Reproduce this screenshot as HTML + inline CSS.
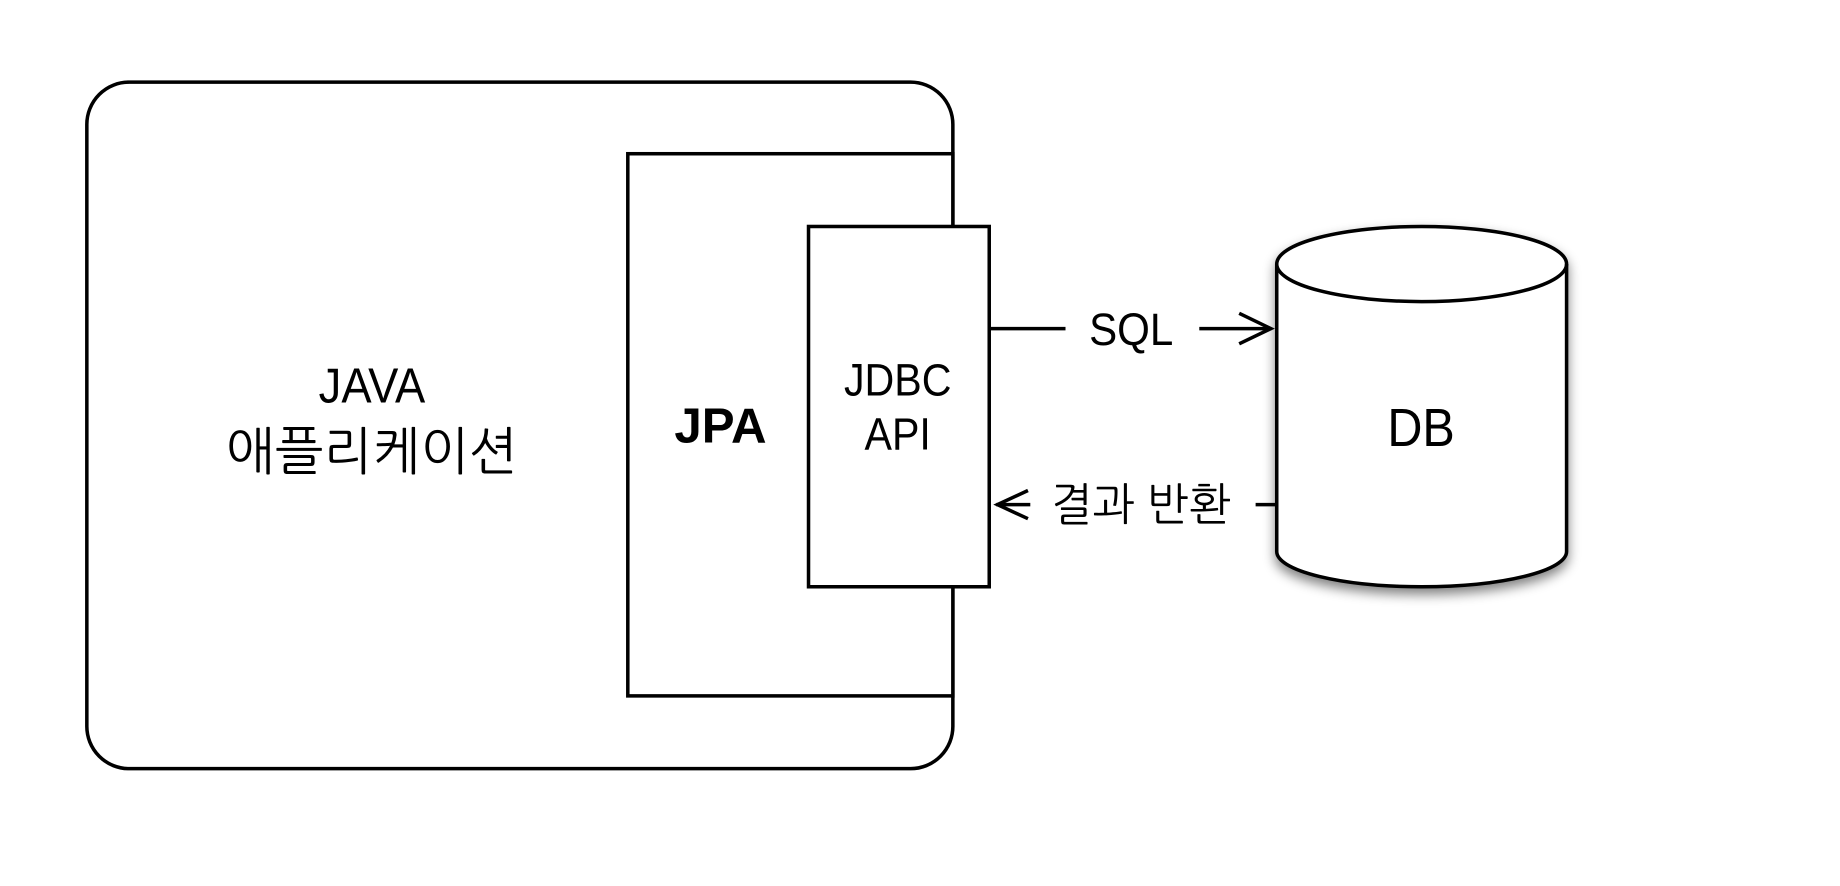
<!DOCTYPE html>
<html><head><meta charset="utf-8"><style>
html,body{margin:0;padding:0;background:#fff;overflow:hidden}
svg{display:block}
text{font-family:"Liberation Sans","NanumGothic","Noto Sans CJK KR",sans-serif;fill:#000}
</style></head><body>
<svg width="1840" height="886" viewBox="0 0 1568 755" preserveAspectRatio="none">
<defs><filter id="sh" x="-20%" y="-20%" width="140%" height="150%"><feGaussianBlur in="SourceAlpha" stdDeviation="5"/><feOffset dy="5"/><feComponentTransfer><feFuncA type="linear" slope="0.5"/></feComponentTransfer><feMerge><feMergeNode/><feMergeNode in="SourceGraphic"/></feMerge></filter></defs>
<g stroke="#000" stroke-width="3" fill="#fff">
<rect x="74" y="70" width="738" height="585" rx="36"/>
<rect x="535" y="131" width="277" height="462"/>
<rect x="689" y="193" width="154" height="307"/>
<path filter="url(#sh)" d="M1088,225 L1088,470 A123.5,30 0 0 0 1335,470 L1335,225 A123.5,32 0 0 0 1088,225 Z"/>
<path fill="none" d="M1088,225 A123.5,32 0 0 0 1335,225"/>
<line x1="843" y1="280" x2="908" y2="280"/>
<line x1="1022" y1="280" x2="1083" y2="280"/>
<polyline fill="none" points="1056,267 1083,280 1056,293"/>
<line x1="849" y1="430" x2="878" y2="430"/>
<polyline fill="none" points="876,418 850,430 876,442"/>
<line x1="1070" y1="430" x2="1088" y2="430"/>
</g>
<text x="317" y="343" font-size="42" text-anchor="middle" transform="translate(317 0) scale(0.92 1) translate(-317 0)">JAVA</text>
<text x="317" y="400" font-size="44" text-anchor="middle">애플리케이션</text>
<text x="614" y="377" font-size="42" font-weight="bold" text-anchor="middle">JPA</text>
<text x="765" y="337" font-size="39" text-anchor="middle" transform="translate(765 0) scale(0.9 1) translate(-765 0)">JDBC</text>
<text x="765" y="383" font-size="39" text-anchor="middle" transform="translate(765 0) scale(0.9 1) translate(-765 0)">API</text>
<text x="964" y="294" font-size="39" text-anchor="middle" transform="translate(964 0) scale(0.92 1) translate(-964 0)">SQL</text>
<text x="972" y="443" font-size="38" text-anchor="middle">결과 반환</text>
<text x="1211" y="380" font-size="46" text-anchor="middle" transform="translate(1211 0) scale(0.9 1) translate(-1211 0)">DB</text>
</svg>
</body></html>
